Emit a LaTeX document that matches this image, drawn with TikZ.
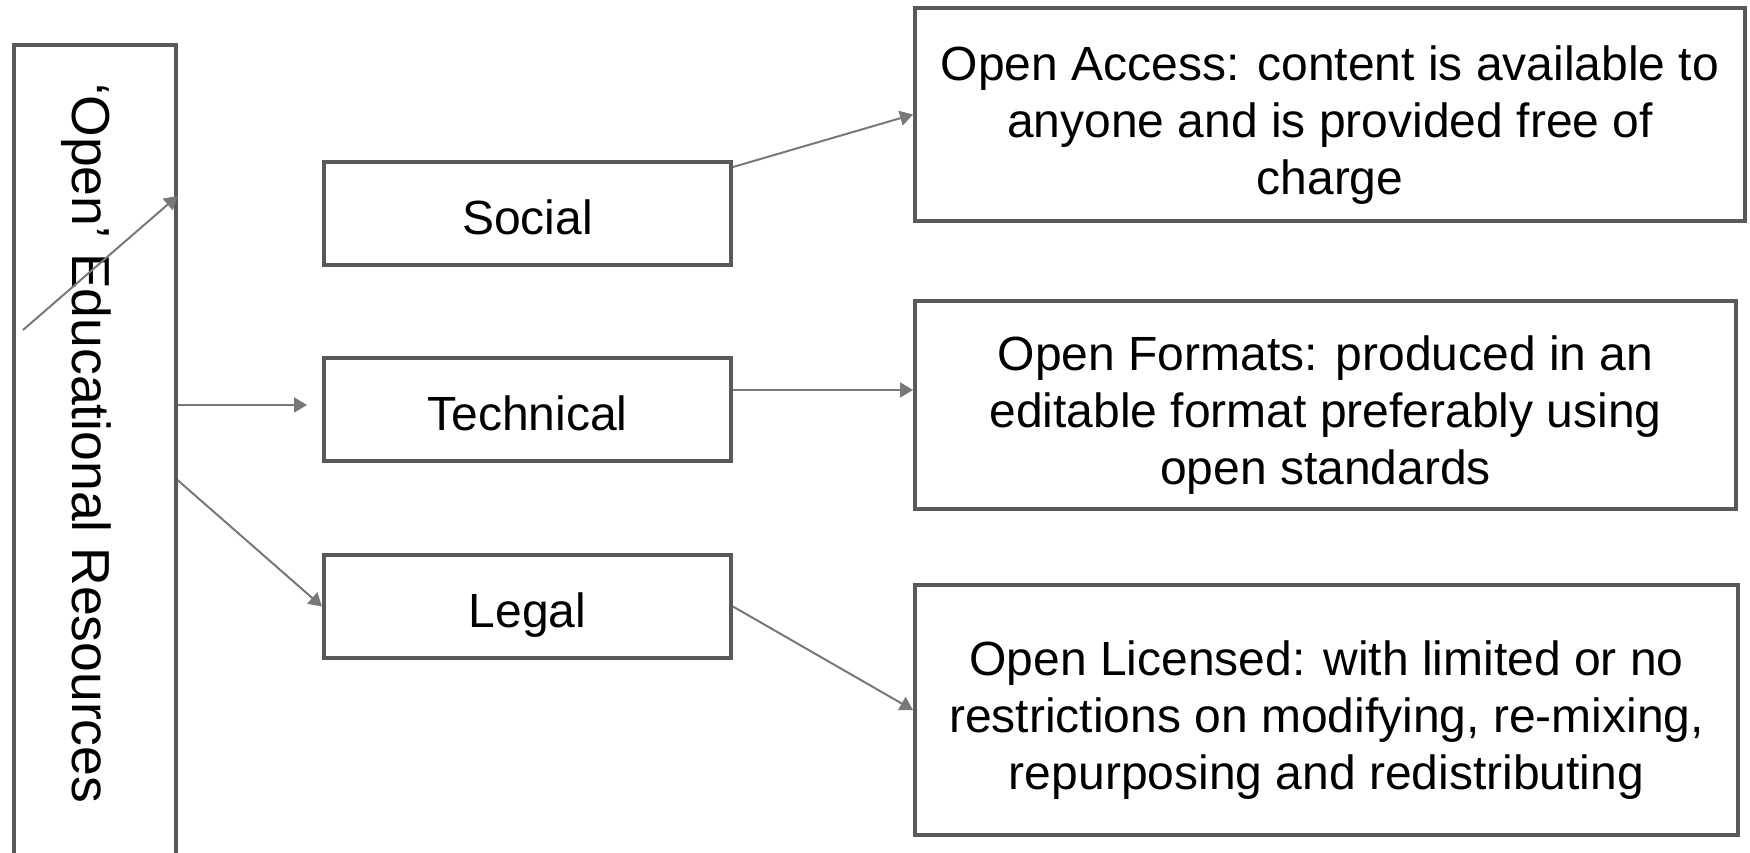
\documentclass[tikz,border=0pt]{standalone}
\usepackage{graphicx}
\usepackage{fontspec}
\setmainfont{Liberation Sans}
\usepackage{tikz}
\usetikzlibrary{arrows.meta}

\definecolor{boxgray}{HTML}{595959}
\definecolor{arrowgray}{HTML}{787878}
\newcommand{\firstline}{\rule{0pt}{27.5pt}}
\tikzset{
  box/.style = {draw = boxgray, line width = 2pt, shape = rectangle, inner sep = 0pt, align = center, font = \fontsize{24}{28.5}\selectfont},
  smallbox/.style = {box, minimum width = 203.5pt, minimum height = 51.5pt, text height = 23pt, text depth = 1.8pt},
  arr/.style = {draw = arrowgray, line width = 1pt, -{Triangle[length = 6.5pt, width = 7.5pt]}}
}

\begin{document}
\begin{tikzpicture}[x = 0.5pt, y = -0.5pt]
\useasboundingbox (0,0) rectangle (1750,852);
\node[box, minimum width = 80.75pt, minimum height = 420pt, font = \fontsize{26.75}{32}\selectfont] (oer) at (94.75,465) {\rotatebox{-90}{\raisebox{-4pt}[\height][\depth]{‘Open’ Educational Resources}\hspace{21.5pt}}};
\node[smallbox] (social) at (527.5,213.5) {Social};
\node[smallbox] (technical) at (527.5,409.5) {Technical};
\node[smallbox] (legal) at (527.5,606.5) {Legal};
\node[box, minimum width = 415pt, minimum height = 106.5pt] (access) at (1330,114.5) {\firstline Open Access: content is available to\\anyone and is provided free of\\charge};
\node[box, minimum width = 410.5pt, minimum height = 104pt] (formats) at (1325.5,405) {\firstline Open Formats: produced in an\\editable format preferably using\\open standards};
\node[box, minimum width = 411.5pt, minimum height = 125pt] (licensed) at (1326.5,710) {\firstline Open Licensed: with limited or no\\restrictions on modifying, re-mixing,\\repurposing and redistributing};
\coordinate (loose) at (23,330);
\coordinate (oertech) at ([yshift = 30pt]oer.east);
\coordinate (techout) at ([yshift = 9.75pt]technical.east);
\draw[arr] (loose) -- (oer.east |- 0,196);
\draw[arr, shorten > = 7.5pt] (oertech) -- (oertech -| technical.west);
\draw[arr] ([yshift = -7.5pt]oer.east) -- (legal.west);
\draw[arr] ([yshift = 23.25pt]social.east) -- (access.west);
\draw[arr] (techout) -- (techout -| formats.west);
\draw[arr] (legal.east) -- (licensed.west);
\end{tikzpicture}
\end{document}
